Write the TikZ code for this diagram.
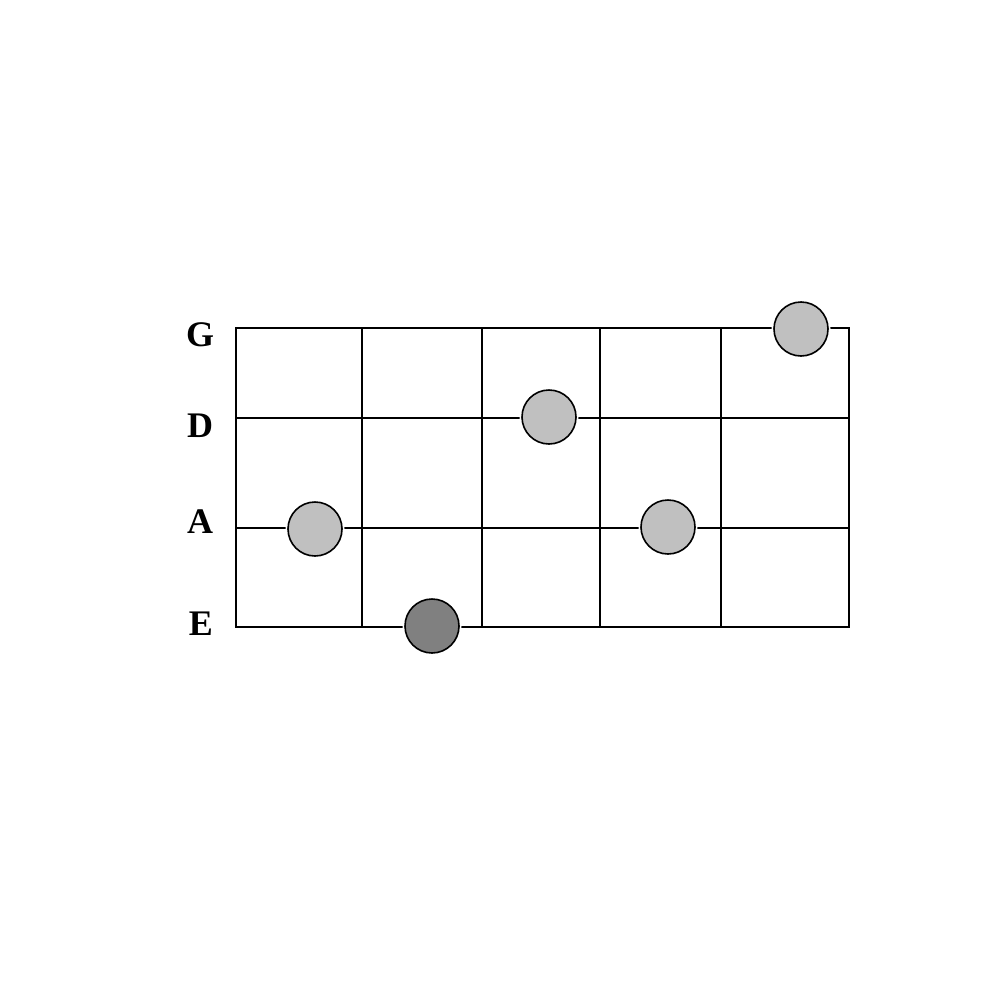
\documentclass[tikz,border=0pt]{standalone}
\usepackage{fontspec}
\setmainfont{Liberation Serif}
\begin{document}
\begin{tikzpicture}[x=1pt,y=-1pt,
  gridline/.style={line width=2pt,black,line cap=rect},
  dotlight/.style={circle,draw=black,line width=1.6pt,fill={rgb,255:red,192;green,192;blue,192},minimum size=54pt,inner sep=0pt},
  dotdark/.style={circle,draw=black,line width=1.6pt,fill={rgb,255:red,128;green,128;blue,128},minimum size=54pt,inner sep=0pt},
  halo/.style={circle,draw=white,line width=2pt,minimum size=57pt,inner sep=0pt},
  strlabel/.style={font=\bfseries\fontsize{36}{36}\selectfont,anchor=base,inner sep=0pt}]
\useasboundingbox (0,0) rectangle (982,982);
% strings
\foreach \y/\n in {328/G,418/D,528/A,627/E}{
  \coordinate (s\n l) at (236,\y);
  \coordinate (s\n r) at (849,\y);
  \draw[gridline] (s\n l) -- (s\n r);
}
% frets
\foreach \x/\i in {236/0,362/1,482/2,600/3,721/4,849/5}{
  \coordinate (f\i t) at (\x,328);
  \coordinate (f\i b) at (\x,627);
  \draw[gridline] (f\i t) -- (f\i b);
}
% labels
\node[strlabel] (lG) at (200,346) {G};
\node[strlabel] (lD) at (200,437) {D};
\node[strlabel] (lA) at (200,533) {A};
\node[strlabel] (lE) at (201,635) {E};
% dots
\foreach \x/\y/\n in {801/329/g,549/417/d,315/529/a1,668/527/a2}{
  \node[halo] at (\x,\y) {};
  \node[dotlight] (\n) at (\x,\y) {};
}
\node[halo] at (432,626) {};
\node[dotdark] (e) at (432,626) {};
\end{tikzpicture}
\end{document}
